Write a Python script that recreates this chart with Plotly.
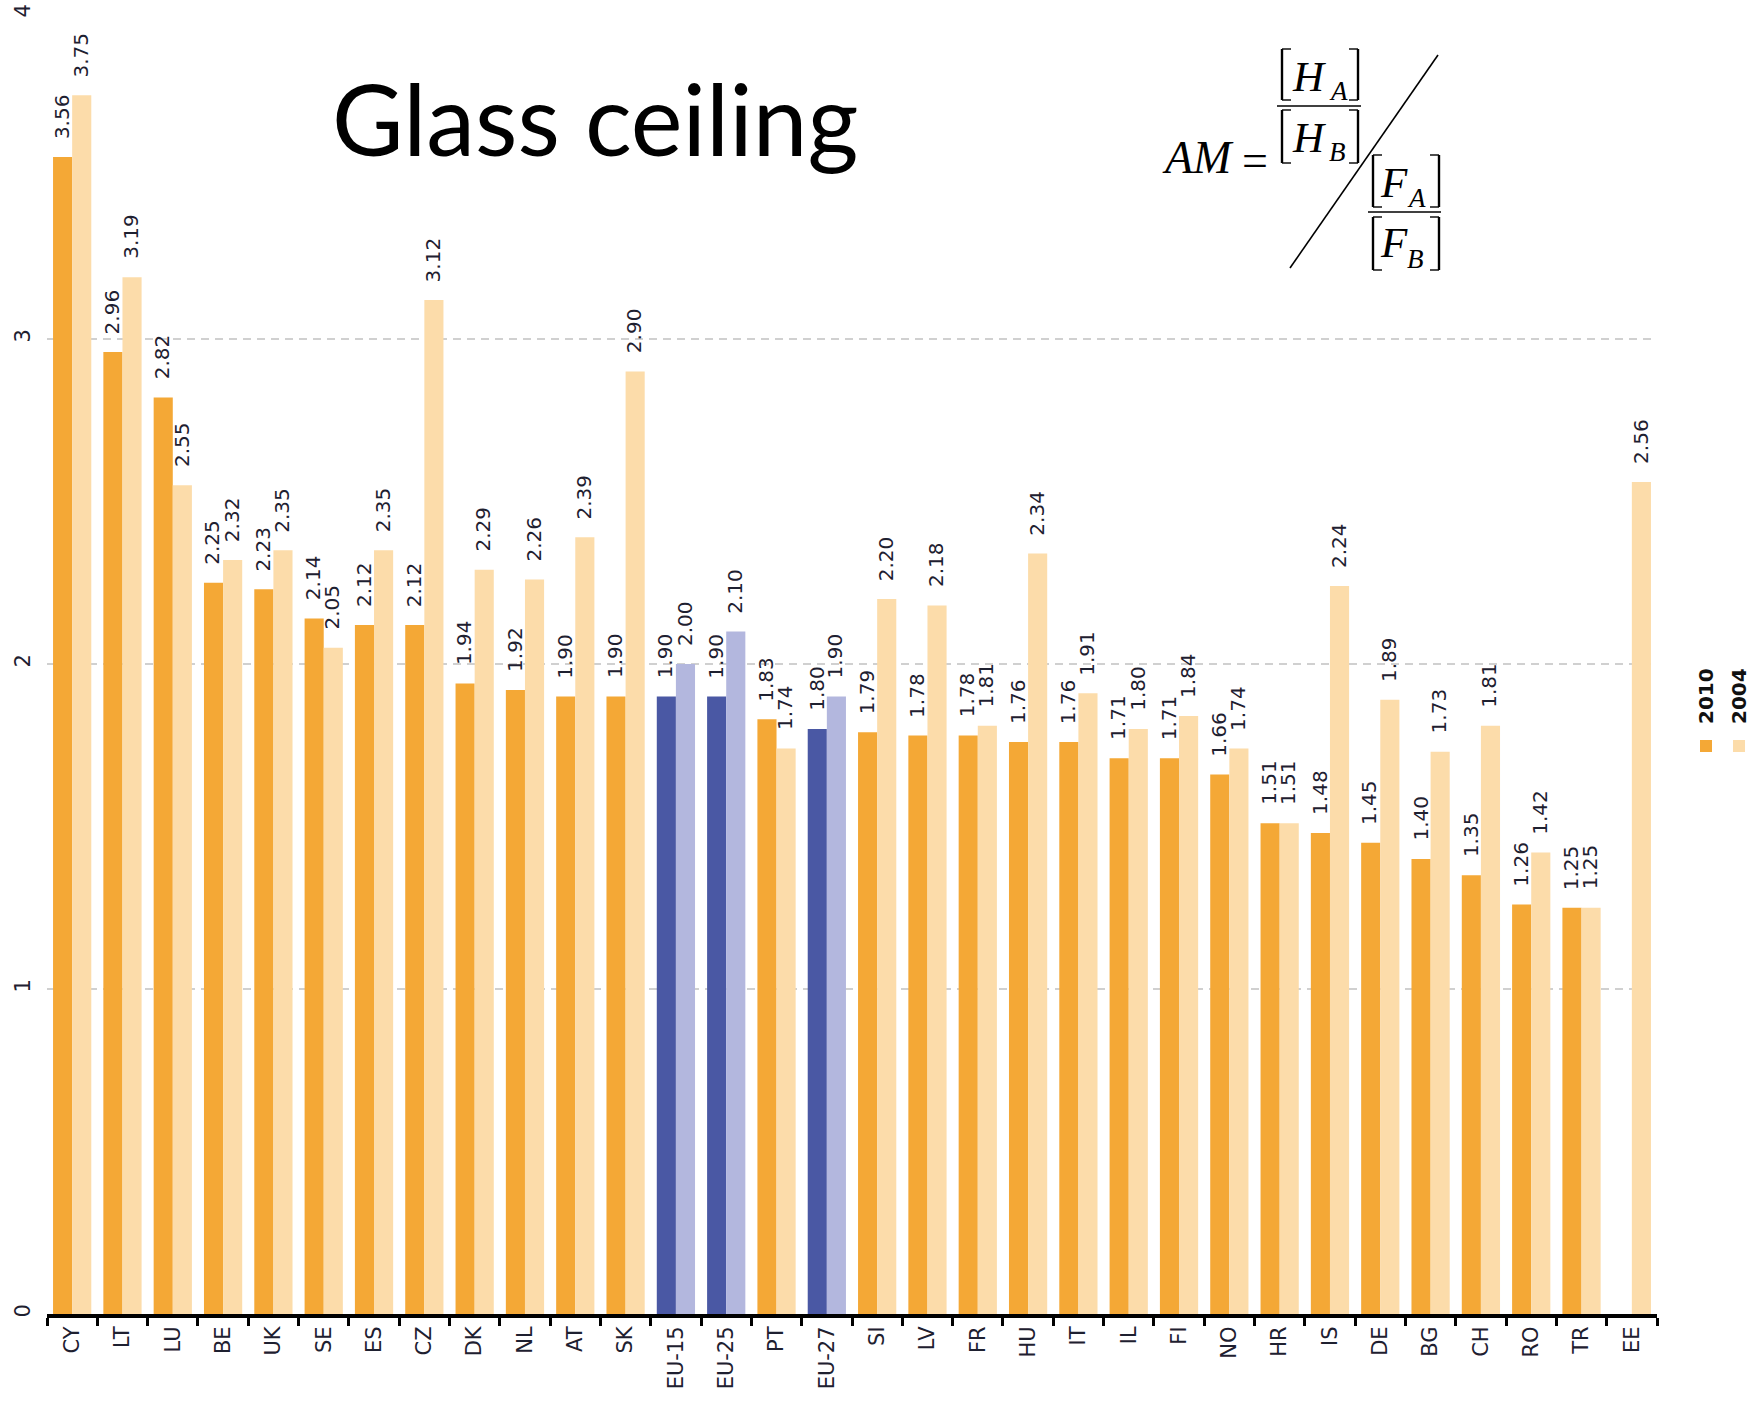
import plotly.graph_objects as go

# ---------------- data ----------------
categories = ["CY", "LT", "LU", "BE", "UK", "SE", "ES", "CZ", "DK", "NL", "AT", "SK",
              "EU-15", "EU-25", "PT", "EU-27", "SI", "LV", "FR", "HU", "IT", "IL",
              "FI", "NO", "HR", "IS", "DE", "BG", "CH", "RO", "TR", "EE"]
values_2010 = [3.56, 2.96, 2.82, 2.25, 2.23, 2.14, 2.12, 2.12, 1.94, 1.92, 1.90, 1.90,
               1.90, 1.90, 1.83, 1.80, 1.79, 1.78, 1.78, 1.76, 1.76, 1.71,
               1.71, 1.66, 1.51, 1.48, 1.45, 1.40, 1.35, 1.26, 1.25, None]
values_2004 = [3.75, 3.19, 2.55, 2.32, 2.35, 2.05, 2.35, 3.12, 2.29, 2.26, 2.39, 2.90,
               2.00, 2.10, 1.74, 1.90, 2.20, 2.18, 1.81, 2.34, 1.91, 1.80,
               1.84, 1.74, 1.51, 2.24, 1.89, 1.73, 1.81, 1.42, 1.25, 2.56]
eu_aggregates = ["EU-15", "EU-25", "EU-27"]
series_names = ["2010", "2004"]
y_ticks = [0, 1, 2, 3, 4]
title_text = "Glass ceiling"

# ---------------- style ----------------
W, H = 1751, 1405
L, R, T, B = 47, 94, 14, 91
PW, PH = W - L - R, H - T - B
ORANGE, LIGHT_ORANGE = "#F4A836", "#FCDCAA"
BLUE, LIGHT_BLUE = "#4A58A4", "#B3B7DE"
TXT = "#1E2030"
FONT = "DejaVu Sans"
SERIF = "Liberation Serif"


def X(px):
    return (px - L) / PW


def Y(py):
    return (H - B - py) / PH


colors_2010 = [BLUE if c in eu_aggregates else ORANGE for c in categories]
colors_2004 = [LIGHT_BLUE if c in eu_aggregates else LIGHT_ORANGE for c in categories]

fig = go.Figure()
fig.add_bar(x=categories, y=values_2010, name=series_names[0],
            marker=dict(color=colors_2010, line=dict(width=0)), showlegend=False)
fig.add_bar(x=categories, y=values_2004, name=series_names[1],
            marker=dict(color=colors_2004, line=dict(width=0)), showlegend=False)

bargap = 0.24
cat_px = PW / len(categories)
half = (1 - bargap) / 4 * cat_px

# value labels
for vals, shift in ((values_2010, -half), (values_2004, half)):
    for c, v in zip(categories, vals):
        if v is None:
            continue
        fig.add_annotation(x=c, y=v, text=f"{v:.2f}", textangle=-90, showarrow=False,
                           xanchor="center", yanchor="bottom", xshift=shift - 1, yshift=16,
                           font=dict(family=FONT, size=20, color=TXT))

# title
fig.add_annotation(xref="paper", yref="paper", x=X(330), y=Y(118), text=title_text,
                   showarrow=False, xanchor="left", yanchor="middle",
                   font=dict(family="Lato", size=98, color="#000000"))


# formula AM = ([H_A]/[H_B]) / ([F_A]/[F_B])
def txt(s, x, y, size, italic=True):
    fig.add_annotation(xref="paper", yref="paper", x=X(x), y=Y(y),
                       text=(f"<i>{s}</i>" if italic else s), showarrow=False,
                       xanchor="left", yanchor="middle",
                       font=dict(family=SERIF, size=size, color="#000000"))


txt("AM", 1160, 158, 46)
txt("=", 1240, 160, 46, italic=False)
txt("H", 1290, 76, 43)
txt("A", 1327, 91, 27)
txt("H", 1290, 137, 43)
txt("B", 1327, 152, 27)
txt("F", 1378, 182, 43)
txt("A", 1405, 198, 27)
txt("F", 1378, 243, 43)
txt("B", 1405, 259, 27)

shapes = []


def line(x0, y0, x1, y1, w=1.6):
    shapes.append(dict(type="line", xref="paper", yref="paper", x0=X(x0), y0=Y(y0),
                       x1=X(x1), y1=Y(y1), line=dict(color="#000000", width=w)))


def brackets(xl, xr, yt, yb):
    s = 9
    line(xl, yt, xl, yb, 2.4)
    line(xl, yt, xl + s, yt, 1.4)
    line(xl, yb, xl + s, yb, 1.4)
    line(xr, yt, xr, yb, 2.4)
    line(xr, yt, xr - s, yt, 1.4)
    line(xr, yb, xr - s, yb, 1.4)


brackets(1282, 1358, 49, 100)
brackets(1282, 1358, 110, 163)
brackets(1373, 1439, 155, 207)
brackets(1373, 1439, 217, 270)
line(1277, 106, 1361, 106, 1.4)
line(1368, 212, 1441, 212, 1.4)
line(1290, 268, 1438, 55, 1.6)

# custom legend
for name, col, cx in ((series_names[0], ORANGE, 1706), (series_names[1], LIGHT_ORANGE, 1739)):
    fig.add_annotation(xref="paper", yref="paper", x=X(cx), y=Y(696), text=f"<b>{name}</b>",
                       textangle=-90, showarrow=False, xanchor="center", yanchor="middle",
                       font=dict(family=FONT, size=20, color="#111111"))
    shapes.append(dict(type="rect", xref="paper", yref="paper", x0=X(cx - 6), x1=X(cx + 6),
                       y0=Y(752), y1=Y(740), line=dict(width=0), fillcolor=col))

fig.update_layout(
    width=W, height=H,
    margin=dict(l=L, r=R, t=T, b=B, pad=0, autoexpand=False),
    paper_bgcolor="white", plot_bgcolor="white",
    barmode="group", bargap=bargap, bargroupgap=0,
    shapes=shapes,
    xaxis=dict(type="category", range=[-0.5, len(categories) - 0.5], automargin=False,
               showline=True, linecolor="#000000", linewidth=4,
               ticks="outside", ticklen=8, tickwidth=3, tickcolor="#000000",
               tickson="boundaries", tickangle=-90, showgrid=False,
               tickfont=dict(family=FONT, size=21, color=TXT)),
    yaxis=dict(range=[0, 4], tickvals=y_ticks, showgrid=True, gridcolor="#D0D0D0",
               gridwidth=1.5, griddash="8px,6px", zeroline=False, showline=False,
               automargin=False,
               tickangle=-90, ticks="", ticklabelstandoff=12,
               tickfont=dict(family=FONT, size=21, color=TXT)),
)

fig.write_html("out.html", config={"displayModeBar": False},
               post_script="document.body.style.margin='0px';"
                           "document.body.style.overflow='hidden';")
